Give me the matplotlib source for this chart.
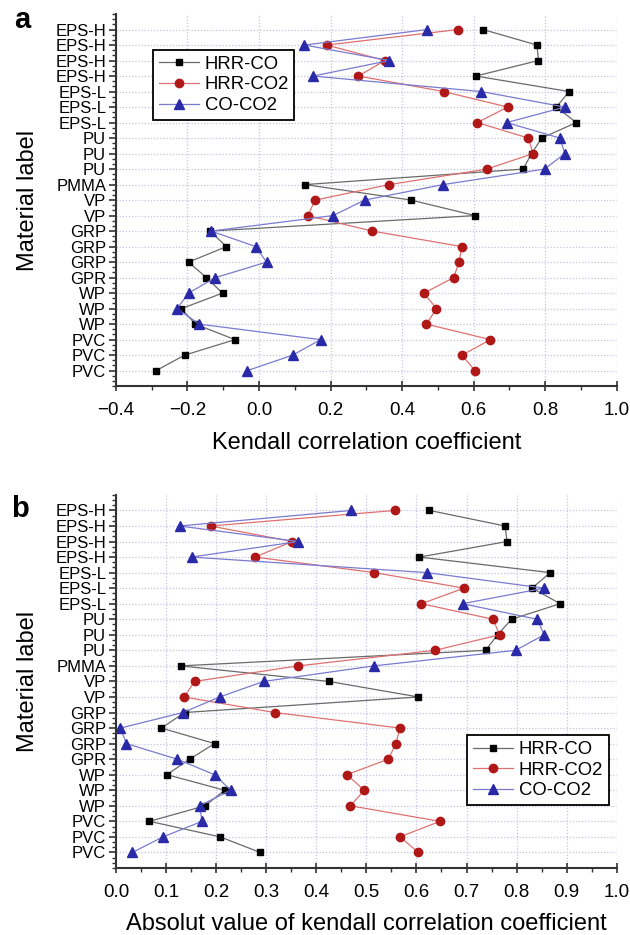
import matplotlib
matplotlib.use('Agg')
import matplotlib.pyplot as plt
from matplotlib.ticker import MultipleLocator
import numpy as np

plt.rcParams['font.family'] = ['Liberation Sans', 'DejaVu Sans']

# material labels, top to bottom
materials = ['EPS-H', 'EPS-H', 'EPS-H', 'EPS-H', 'EPS-L', 'EPS-L', 'EPS-L',
             'PU', 'PU', 'PU', 'PMMA', 'VP', 'VP', 'GRP', 'GRP', 'GRP', 'GPR',
             'WP', 'WP', 'WP', 'PVC', 'PVC', 'PVC']

# Kendall correlation coefficients
hrr_co = [0.626, 0.777, 0.781, 0.606, 0.867, 0.831, 0.887, 0.790, 0.762, 0.738,
          0.129, 0.425, 0.604, -0.137, -0.091, -0.197, -0.147, -0.102, -0.217,
          -0.178, -0.067, -0.208, -0.288]
hrr_co2 = [0.557, 0.189, 0.352, 0.278, 0.516, 0.695, 0.610, 0.753, 0.766, 0.637,
           0.364, 0.157, 0.136, 0.317, 0.567, 0.559, 0.544, 0.461, 0.496, 0.468,
           0.647, 0.567, 0.604]
co_co2 = [0.470, 0.127, 0.364, 0.151, 0.621, 0.855, 0.692, 0.841, 0.855, 0.798,
          0.515, 0.295, 0.207, -0.134, -0.009, 0.021, -0.122, -0.197, -0.229,
          -0.167, 0.172, 0.094, -0.033]

series = [('HRR-CO', hrr_co, 's', '#000000', '#6a6a6a', 5.0),
          ('HRR-CO2', hrr_co2, 'o', '#b01818', '#e07070', 6.0),
          ('CO-CO2', co_co2, '^', '#2a2aa8', '#7a7ad0', 6.5)]

rows = np.arange(1, len(materials) + 1)

fig = plt.figure(figsize=(6.3, 9.35), dpi=100)
ax_a = fig.add_axes([0.184, 0.587, 0.795, 0.398])
ax_b = fig.add_axes([0.184, 0.0717, 0.795, 0.399])


def style_axes(ax, xmin, xmax, major, minor):
    ax.set_xlim(xmin, xmax)
    ax.set_ylim(len(materials) + 1, 0)
    ax.set_yticks(rows)
    ax.set_yticklabels(materials, fontsize=12)
    ax.yaxis.set_minor_locator(MultipleLocator(1 / 3))
    ax.xaxis.set_major_locator(MultipleLocator(major))
    ax.xaxis.set_minor_locator(MultipleLocator(minor))
    ax.tick_params(axis='x', labelsize=13.5, pad=8)
    ax.tick_params(which='major', direction='inout', length=7, width=1.2, color='#333333')
    ax.tick_params(which='minor', direction='out', length=3, width=1.0, color='#333333')
    ax.tick_params(axis='y', which='major', direction='out', length=5, pad=2)
    for s in ['top', 'right']:
        ax.spines[s].set_visible(False)
    for s in ['left', 'bottom']:
        ax.spines[s].set_linewidth(1.5)
        ax.spines[s].set_color('#333333')
    ax.grid(True, which='major', color='#c4c4e4', linestyle=(0, (1, 1.5)), linewidth=0.9)
    ax.set_axisbelow(True)
    ax.set_ylabel('Material label', fontsize=17, labelpad=12)


# panel a: signed coefficients
for name, vals, mk, mc, lc, ms in series:
    ax_a.plot(vals, rows, color=lc, linewidth=0.9, marker=mk, markersize=ms,
              markerfacecolor=mc, markeredgecolor=mc, label=name)
style_axes(ax_a, -0.4, 1.0, 0.2, 0.1)
ax_a.set_xlabel('Kendall correlation coefficient', fontsize=17, labelpad=9)
leg = ax_a.legend(loc='upper left', bbox_to_anchor=(0.074, 0.903), borderaxespad=0,
                  fontsize=13.3, fancybox=False, framealpha=1, edgecolor='black',
                  handlelength=2.2, labelspacing=0.2, borderpad=0.3, handletextpad=0.3)
leg.get_frame().set_linewidth(1.3)

# panel b: absolute values
for name, vals, mk, mc, lc, ms in series:
    ax_b.plot(np.abs(vals), rows, color=lc, linewidth=0.9, marker=mk, markersize=ms,
              markerfacecolor=mc, markeredgecolor=mc, label=name)
style_axes(ax_b, 0.0, 1.0, 0.1, 0.05)
ax_b.set_xlabel('Absolut value of kendall correlation coefficient', fontsize=17, labelpad=9)
leg = ax_b.legend(loc='lower right', bbox_to_anchor=(0.984, 0.169), borderaxespad=0,
                  fontsize=13.3, fancybox=False, framealpha=1, edgecolor='black',
                  handlelength=2.2, labelspacing=0.2, borderpad=0.3, handletextpad=0.3)
leg.get_frame().set_linewidth(1.3)

fig.text(0.036, 0.970, 'a', fontsize=21, fontweight='bold', ha='center', va='baseline')
fig.text(0.032, 0.447, 'b', fontsize=21, fontweight='bold', ha='center', va='baseline')

fig.savefig('out.png', dpi=100)
